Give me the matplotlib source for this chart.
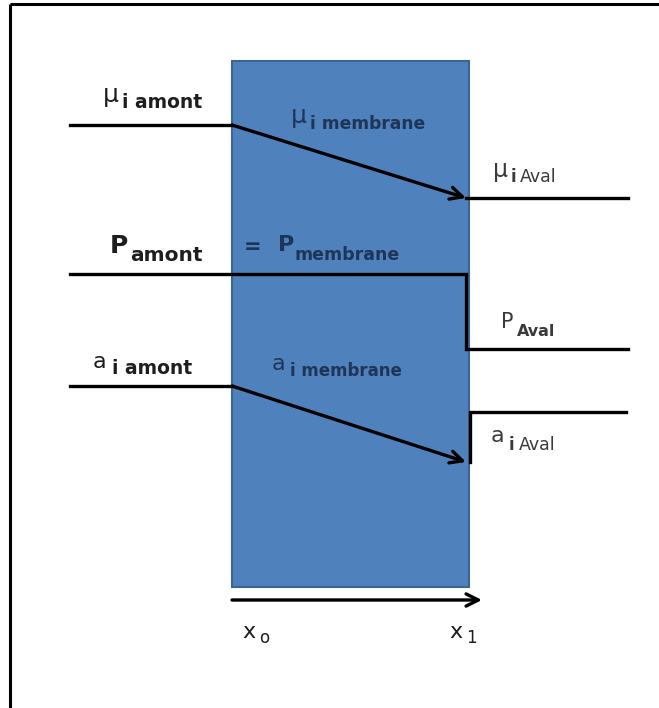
import matplotlib
matplotlib.use("Agg")
import matplotlib.pyplot as plt
from matplotlib.patches import Rectangle

# Diagram geometry (pixel-like units, y downward)
x_left, x0, x1, x_right = 70, 232, 466, 628
membrane_top, membrane_bottom = 61, 587

# Profiles: level upstream, level at x1 (inside), downstream level
mu_levels = [125, 198, 198]          # mu_i: amont, membrane end, aval
p_levels = [274, 274, 349]           # P: amont, membrane end, aval
a_levels = [386, 462, 412]           # a_i: amont, membrane end, aval

fig = plt.figure(figsize=(6.59, 7.08), dpi=100)
ax = fig.add_axes([0, 0, 1, 1])
ax.set_xlim(0, 659)
ax.set_ylim(708, 0)
ax.axis('off')

# frame (only top and left visible)
ax.plot([10, 10], [708, 3.5], color='black', lw=2.2, solid_capstyle='butt')
ax.plot([10, 659], [3.5, 3.5], color='black', lw=2.2, solid_capstyle='butt')

# membrane
ax.add_patch(Rectangle((x0, membrane_top), x1 + 3 - x0, membrane_bottom - membrane_top,
                       facecolor='#4F81BD', edgecolor='#3A6595', lw=1.5, zorder=1))

lw = 2.4
arrow = dict(arrowstyle='->', lw=lw, color='black', mutation_scale=22, shrinkA=0, shrinkB=0)

# mu profile
ax.plot([x_left, x0], [mu_levels[0]] * 2, color='black', lw=lw, zorder=3)
ax.annotate('', xy=(x1, mu_levels[1]), xytext=(x0, mu_levels[0]), arrowprops=arrow, zorder=3)
ax.plot([x1, x_right], [mu_levels[2]] * 2, color='black', lw=lw, zorder=3)

# P profile
ax.plot([x_left, x1, x1, x1, x_right],
        [p_levels[0], p_levels[1], p_levels[1], p_levels[2], p_levels[2]],
        color='black', lw=lw, zorder=3, solid_joinstyle='miter')

# a profile
ax.plot([x_left, x0], [a_levels[0]] * 2, color='black', lw=lw, zorder=3)
ax.annotate('', xy=(x1, a_levels[1]), xytext=(x0, a_levels[0]), arrowprops=arrow, zorder=3)
ax.plot([x1 + 4, x1 + 4, x_right - 2], [a_levels[1], a_levels[2], a_levels[2]],
        color='black', lw=lw, zorder=3, solid_joinstyle='miter')

# x axis arrow
ax.annotate('', xy=(482, 600), xytext=(x0, 600), arrowprops=arrow, zorder=3)

dark = '#1e1e1e'
navy = '#1F3558'
gray = '#3A3A3A'

def t(x, y, s, color, size, bold=False):
    ax.text(x, y, s, color=color, fontsize=size, ha='left', va='baseline',
            fontweight='bold' if bold else 'normal', family='DejaVu Sans', zorder=4)

# mu labels
t(103, 102, 'μ', dark, 18)
t(122, 108, 'i amont', dark, 13.5, bold=True)
t(291, 123, 'μ', navy, 18)
t(310, 129, 'i membrane', navy, 12.3, bold=True)
t(493, 177, 'μ', gray, 17)
t(511, 182, 'i', gray, 12, bold=True)
t(520, 182, 'Aval', gray, 12.5)

# P labels
t(110, 253, 'P', dark, 18, bold=True)
t(130, 261, 'amont', dark, 14.5, bold=True)
t(244, 253, '=', navy, 15, bold=True)
t(278, 251, 'P', navy, 16, bold=True)
t(295, 260, 'membrane', navy, 12.5, bold=True)
t(501, 328, 'P', gray, 15)
t(517, 336, 'Aval', gray, 11.5, bold=True)

# a labels
t(93, 368, 'a', dark, 16)
t(112, 374, 'i amont', dark, 13.5, bold=True)
t(272, 370, 'a', navy, 16)
t(290, 376, 'i membrane', navy, 12, bold=True)
t(491, 442, 'a', gray, 16)
t(509, 450, 'i', gray, 12, bold=True)
t(519, 450, 'Aval', gray, 12.5)

# x labels
t(242, 638, 'x', dark, 16)
t(259, 643, 'o', dark, 12)
t(449, 638, 'x', dark, 16)
t(466, 643, '1', dark, 12)

fig.savefig('out.png', dpi=100)
